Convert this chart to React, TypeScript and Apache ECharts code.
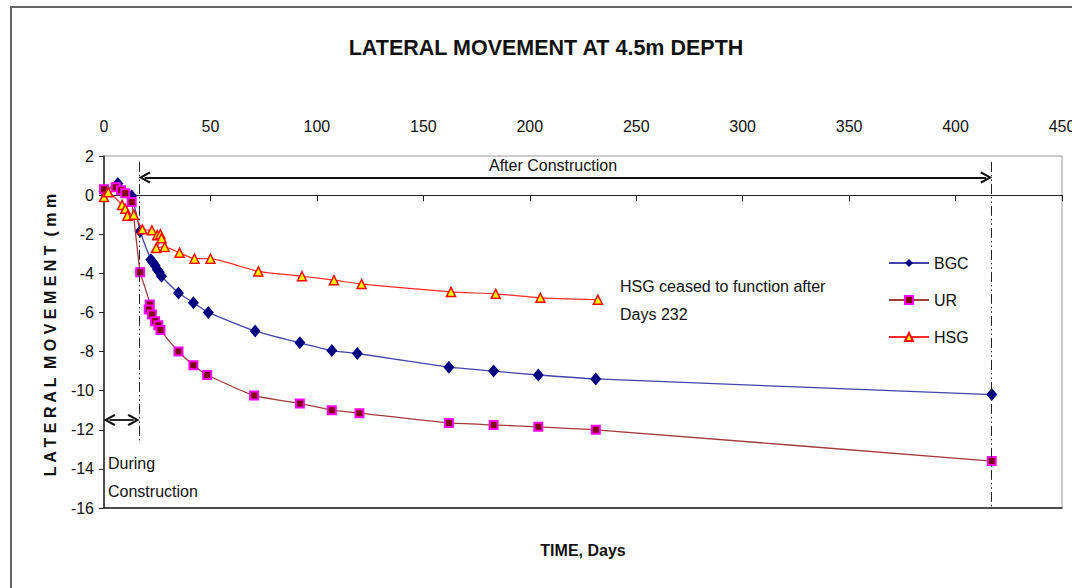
import React, { useEffect, useRef } from "react";
import * as echarts from "echarts";

// Lateral movement (mm) against time (days) for the three ground treatments
const bgcDays = [0, 6.5, 13, 17, 22, 23, 24, 25, 26, 27, 35, 42, 49, 71, 92, 107, 119, 162, 183, 204, 231, 417];
const bgcValues = [0.2, 0.6, -0.05, -1.85, -3.3, -3.45, -3.6, -3.8, -3.95, -4.15, -5.0, -5.5, -6.0, -6.95, -7.55, -7.95, -8.1, -8.8, -9.0, -9.2, -9.4, -10.2];

const urDays = [0, 5.5, 8, 10, 13, 17, 21.5, 21, 22.5, 24, 25.5, 26.5, 35, 42, 48.5, 70.5, 92, 107, 120, 162, 183, 204, 231, 417];
const urValues = [0.3, 0.4, 0.25, 0.1, -0.35, -3.95, -5.6, -5.85, -6.1, -6.45, -6.65, -6.9, -8.0, -8.7, -9.2, -10.25, -10.65, -11.0, -11.15, -11.65, -11.75, -11.85, -12.0, -13.6];

const hsgDays = [0, 2, 8.5, 10, 11, 14, 18, 22.5, 25, 26.5, 27, 24.5, 28.5, 35.5, 42.5, 50, 72.5, 93, 108, 121, 163, 184, 205, 232];
const hsgValues = [-0.1, 0.15, -0.5, -0.7, -1.05, -1.0, -1.75, -1.8, -2.05, -2.0, -2.2, -2.7, -2.65, -2.95, -3.25, -3.25, -3.9, -4.15, -4.35, -4.55, -4.95, -5.05, -5.25, -5.35];

const xTicks = { min: 0, max: 450, step: 50 };
const yTicks = { min: -16, max: 2, step: 2 };

// Construction phase markers (days) and arrow levels (mm)
const endOfConstruction = 16.5;
const lastReading = 417;
const afterArrowLevel = 0.9;
const duringArrowLevel = -11.5;

const FONT = "'Liberation Sans', Arial, sans-serif";

const pairs = (xs: number[], ys: number[]) => xs.map((x, i) => [x, ys[i]]);

const chevron = "path://M5,0 L10,8.4 L8.5,9.4 L5,3.2 L1.5,9.4 L0,8.4 Z";
const dashDotDot = [10, 3, 1.5, 3, 1.5, 3];

export default function App() {
  const ref = useRef<HTMLDivElement>(null);

  useEffect(() => {
    if (!ref.current) return;
    const chart = echarts.init(ref.current, undefined, { renderer: "svg" });

    const text = (t: string, x: number, y: number, opts: any = {}) => ({
      type: "text",
      x,
      y,
      rotation: opts.rotation || 0,
      style: {
        text: t,
        fill: "#111",
        fontFamily: FONT,
        fontSize: opts.fontSize || 16,
        fontWeight: opts.fontWeight || "normal",
        align: opts.align || "left",
        verticalAlign: "middle",
      },
    });

    const option: any = {
      animation: false,
      backgroundColor: "#fff",
      grid: {
        left: 104,
        right: 10,
        top: 156,
        bottom: 80,
        outerBoundsMode: "none",
        containLabel: false,
        show: true,
        borderColor: "#999",
        borderWidth: 1,
      },
      xAxis: [
        {
          type: "value",
          position: "top",
          min: xTicks.min,
          max: xTicks.max,
          interval: xTicks.step,
          axisLine: { show: false, onZero: false },
          axisTick: { show: false },
          splitLine: { show: false },
          axisLabel: { fontSize: 16, color: "#111", fontFamily: FONT, margin: 22 },
        },
        {
          type: "value",
          position: "bottom",
          min: xTicks.min,
          max: xTicks.max,
          interval: xTicks.step,
          axisLine: { show: true, onZero: true, lineStyle: { color: "#222", width: 1.2 } },
          axisTick: { show: true, length: 6, lineStyle: { color: "#222" } },
          splitLine: { show: false },
          axisLabel: { show: false },
        },
        {
          type: "value",
          position: "bottom",
          min: xTicks.min,
          max: xTicks.max,
          axisLine: { show: true, onZero: false, lineStyle: { color: "#222", width: 1.5 } },
          axisTick: { show: false },
          splitLine: { show: false },
          axisLabel: { show: false },
        },
      ],
      yAxis: {
        type: "value",
        min: yTicks.min,
        max: yTicks.max,
        interval: yTicks.step,
        axisLine: { show: true, onZero: false, lineStyle: { color: "#222", width: 1.5 } },
        axisTick: { show: true, length: 5, lineStyle: { color: "#222" } },
        splitLine: { show: false },
        axisLabel: { fontSize: 16, color: "#111", fontFamily: FONT, margin: 10 },
      },
      legend: {
        orient: "vertical",
        left: 883,
        top: 250,
        itemWidth: 40,
        itemHeight: 10,
        itemGap: 21,
        textStyle: { fontSize: 16, color: "#111", fontFamily: FONT },
        data: ["BGC", "UR", "HSG"],
      },
      series: [
        {
          name: "BGC",
          type: "line",
          data: pairs(bgcDays, bgcValues),
          smooth: 0.15,
          symbol: "diamond",
          symbolSize: [11, 13],
          lineStyle: { color: "#4444a8", width: 1.3 },
          itemStyle: { color: "#000080", borderColor: "#000080", borderWidth: 0 },
          z: 3,
          markLine: {
            silent: true,
            symbol: "none",
            label: { show: false },
            data: [
              [
                { coord: [endOfConstruction, 1.7], lineStyle: { color: "#222", width: 1, type: dashDotDot } },
                { coord: [endOfConstruction, -12.7] },
              ],
              [
                { coord: [lastReading, 1.7], lineStyle: { color: "#222", width: 1, type: dashDotDot } },
                { coord: [lastReading, -16] },
              ],
              [
                { coord: [endOfConstruction + 2.6, afterArrowLevel], symbol: chevron, symbolSize: [12, 12], lineStyle: { color: "#111", width: 1.8, type: "solid" } },
                { coord: [lastReading - 2.6, afterArrowLevel], symbol: chevron, symbolSize: [12, 12] },
              ],
              [
                { coord: [2.6, duringArrowLevel], symbol: chevron, symbolSize: [12, 12], lineStyle: { color: "#111", width: 1.8, type: "solid" } },
                { coord: [endOfConstruction - 2.6, duringArrowLevel], symbol: chevron, symbolSize: [12, 12] },
              ],
            ],
          },
        },
        {
          name: "UR",
          type: "line",
          data: pairs(urDays, urValues),
          smooth: 0.15,
          symbol: "rect",
          symbolSize: 8,
          lineStyle: { color: "#a03c3c", width: 1.3 },
          itemStyle: { color: "#800000", borderColor: "#ff00ff", borderWidth: 2 },
          z: 4,
        },
        {
          name: "HSG",
          type: "line",
          data: pairs(hsgDays, hsgValues),
          smooth: 0.15,
          symbol: "triangle",
          symbolSize: 9,
          lineStyle: { color: "#ff2a2a", width: 1.2 },
          itemStyle: { color: "#ffff00", borderColor: "#ff0000", borderWidth: 1.5 },
          z: 5,
        },
      ],
      graphic: [
        {
          type: "rect",
          shape: { x: 11, y: 7, width: 1100, height: 620 },
          style: { fill: "none", stroke: "#666", lineWidth: 2 },
          silent: true,
        },
        text("LATERAL MOVEMENT AT 4.5m DEPTH", 546, 48, { fontSize: 21.5, fontWeight: "bold", align: "center" }),
        text("After Construction", 489, 165),
        text("During", 108, 463),
        text("Construction", 108, 491),
        text("HSG ceased to function after", 620, 286),
        text("Days 232", 620, 314),
        text("TIME, Days", 583, 550, { fontWeight: "bold", align: "center" }),
        text("L A T E R A L  M O V E M E N T  ( m m", 50, 335, {
          fontWeight: "bold",
          align: "center",
          rotation: Math.PI / 2,
        }),
      ],
    };

    chart.setOption(option);
    return () => chart.dispose();
  }, []);

  return (
    <div
      ref={ref}
      style={{ position: "fixed", left: 0, top: 0, width: 1072, height: 588, background: "#fff" }}
    />
  );
}
